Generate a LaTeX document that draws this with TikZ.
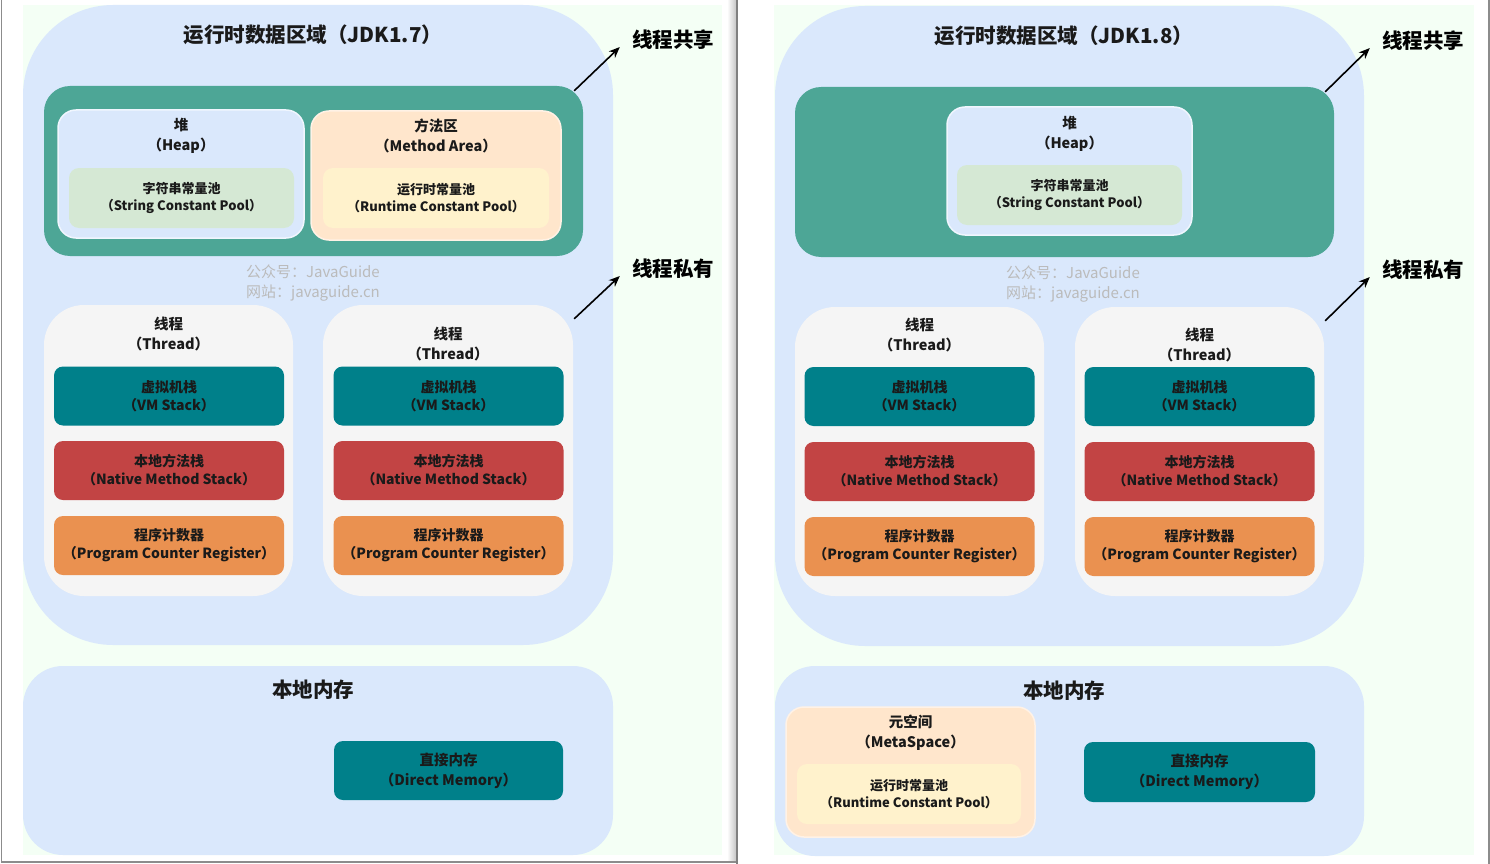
\documentclass[tikz,border=0pt]{standalone}
\usepackage{fontspec}
\setmainfont{Noto Sans CJK SC}
\usetikzlibrary{arrows.meta}

\definecolor{bggreen}{HTML}{F4FFF5}
\definecolor{areablue}{HTML}{DAE8FC}
\definecolor{sharedteal}{HTML}{4DA696}
\definecolor{poolgreen}{HTML}{D5E8D4}
\definecolor{methodorange}{HTML}{FFE6CC}
\definecolor{rcpyellow}{HTML}{FFF2CC}
\definecolor{threadgray}{HTML}{F5F5F5}
\definecolor{vmteal}{HTML}{00808A}
\definecolor{nativered}{HTML}{C24444}
\definecolor{pcorange}{HTML}{EA9150}
\definecolor{markgray}{HTML}{BBBBBB}
\definecolor{textdark}{HTML}{1A1A1A}

\newcommand{\hdfont}{\bfseries\fontsize{20.5}{24}\selectfont}
\newcommand{\ttlfont}{\bfseries\fontsize{14.5}{20}\selectfont}
\newcommand{\stkfont}{\bfseries\fontsize{14}{18}\selectfont}
\newcommand{\plfont}{\bfseries\fontsize{13}{17}\selectfont}
\newcommand{\wmfont}{\fontsize{15}{20}\selectfont}

\tikzset{
  runarea/.style={fill=areablue, inner sep=0pt, rounded corners=90pt},
  localarea/.style={fill=areablue, inner sep=0pt, rounded corners=40pt},
  shared/.style={fill=sharedteal, inner sep=0pt, rounded corners=26pt},
  heapbox/.style={fill=areablue, draw=white!60!areablue, line width=1.5pt, inner sep=0pt, rounded corners=18pt},
  methodbox/.style={fill=methodorange, draw=white!50!methodorange, line width=1.5pt, inner sep=0pt, rounded corners=18pt},
  poolbox/.style={fill=poolgreen, inner sep=0pt, rounded corners=10pt, align=center, font=\plfont, text=textdark},
  rcpbox/.style={poolbox, fill=rcpyellow},
  threadbox/.style={fill=threadgray, inner sep=0pt, rounded corners=40pt},
  stackbox/.style={inner sep=0pt, rounded corners=9pt, minimum width=230pt, minimum height=59pt, align=center, font=\stkfont, text=textdark},
  boxtitle/.style={align=center, inner sep=0pt, font=\ttlfont, text=textdark},
  heading/.style={inner sep=0pt, font=\hdfont, text=textdark},
  sidelabel/.style={inner sep=0pt, font=\hdfont, text=black},
  watermark/.style={align=center, inner sep=0pt, font=\wmfont, text=markgray},
  arr/.style={line width=1.6pt, -{Stealth[length=11pt, width=9pt]}},
}

\begin{document}
\begin{tikzpicture}[x=1pt, y=-1pt]
\useasboundingbox (0,0) rectangle (1490,864);

\fill[white] (0,0) rectangle (1490,864);
\fill[bggreen] (23,5) rectangle (722,855);
\fill[bggreen] (774,5) rectangle (1474,855);
\shade[left color=white, right color=black!22] (727,0) rectangle (736,862);
\draw[black!45, line width=1.5pt] (1.5,0) -- (1.5,862) -- (737,862);
\draw[black!50, line width=1.5pt] (737,0) -- (737,864);
\draw[black!45, line width=1.5pt] (1489,0) -- (1489,864);

\node[runarea, minimum width=590pt, minimum height=640pt] (1) at (318,325) {};
\node[heading] (2) at (313,35) {运行时数据区域（JDK1.7）};
\node[shared, minimum width=539pt, minimum height=170pt] (3) at (313.5,171) {};
\node[heapbox, minimum width=246pt, minimum height=128pt] (4) at (181,174) {};
\node[boxtitle] (5) at (181,136) {堆\\（Heap）};
\node[poolbox, minimum width=225pt, minimum height=60pt] (6) at (181.5,198) {字符串常量池\\（String Constant Pool）};
\node[methodbox, minimum width=250pt, minimum height=129pt] (7) at (436,175.5) {};
\node[boxtitle] (8) at (436,136) {方法区\\（Method Area）};
\node[rcpbox, minimum width=226pt, minimum height=60pt] (9) at (436,198) {运行时常量池\\（Runtime Constant Pool）};
\node[watermark] (10) at (313,283) {公众号：JavaGuide\\网站：javaguide.cn};

\node[threadbox, minimum width=249pt, minimum height=291pt] (11) at (168.5,450.5) {};
\node[boxtitle] (12) at (168.5,334) {线程\\（Thread）};
\node[stackbox, fill=vmteal] (13) at (169,396) {虚拟机栈\\（VM Stack）};
\node[stackbox, fill=nativered] (14) at (169,470.5) {本地方法栈\\（Native Method Stack）};
\node[stackbox, fill=pcorange] (15) at (169,545.5) {程序计数器\\（Program Counter Register）};

\node[threadbox, minimum width=250pt, minimum height=291pt] (16) at (448,450.5) {};
\node[boxtitle] (17) at (448,344) {线程\\（Thread）};
\node[stackbox, fill=vmteal] (18) at (448.5,396) {虚拟机栈\\（VM Stack）};
\node[stackbox, fill=nativered] (19) at (448.5,470.5) {本地方法栈\\（Native Method Stack）};
\node[stackbox, fill=pcorange] (20) at (448.5,545.5) {程序计数器\\（Program Counter Register）};

\node[sidelabel] (21) at (673,40) {线程共享};
\node[sidelabel] (22) at (673,269) {线程私有};
\draw[arr] ([xshift=-9pt, yshift=-5pt]3.north east) -- ([xshift=-12pt, yshift=3pt]21.south west);
\draw[arr] ([xshift=1pt, yshift=-14pt]16.north east) -- ([xshift=-12pt, yshift=3pt]22.south west);

\node[localarea, minimum width=590pt, minimum height=189pt] (23) at (318,760.5) {};
\node[heading] (24) at (313,690) {本地内存};
\node[stackbox, fill=vmteal, minimum width=229pt, font=\ttlfont] (25) at (448.5,770.5) {直接内存\\（Direct Memory）};

\node[runarea, minimum width=589pt, minimum height=640pt] (31) at (1069.5,326) {};
\node[heading] (32) at (1064,36) {运行时数据区域（JDK1.8）};
\node[shared, minimum width=539pt, minimum height=170pt] (33) at (1064.5,172) {};
\node[heapbox, minimum width=245pt, minimum height=128pt] (34) at (1069.5,171) {};
\node[boxtitle] (35) at (1069.5,134) {堆\\（Heap）};
\node[poolbox, minimum width=225pt, minimum height=60pt] (36) at (1069.5,195) {字符串常量池\\（String Constant Pool）};
\node[watermark] (37) at (1073,284) {公众号：JavaGuide\\网站：javaguide.cn};

\node[threadbox, minimum width=249pt, minimum height=289pt] (41) at (919.5,451.5) {};
\node[boxtitle] (42) at (919.5,335) {线程\\（Thread）};
\node[stackbox, fill=vmteal] (43) at (919.5,396.5) {虚拟机栈\\（VM Stack）};
\node[stackbox, fill=nativered] (44) at (919.5,471.5) {本地方法栈\\（Native Method Stack）};
\node[stackbox, fill=pcorange] (45) at (919.5,546.5) {程序计数器\\（Program Counter Register）};

\node[threadbox, minimum width=249pt, minimum height=289pt] (46) at (1199.5,451.5) {};
\node[boxtitle] (47) at (1199.5,345) {线程\\（Thread）};
\node[stackbox, fill=vmteal] (48) at (1199.5,396.5) {虚拟机栈\\（VM Stack）};
\node[stackbox, fill=nativered] (49) at (1199.5,471.5) {本地方法栈\\（Native Method Stack）};
\node[stackbox, fill=pcorange] (50) at (1199.5,546.5) {程序计数器\\（Program Counter Register）};

\node[sidelabel] (51) at (1423,41) {线程共享};
\node[sidelabel] (52) at (1423,270) {线程私有};
\draw[arr] ([xshift=-9pt, yshift=-5pt]33.north east) -- ([xshift=-12pt, yshift=3pt]51.south west);
\draw[arr] ([xshift=1pt, yshift=-14pt]46.north east) -- ([xshift=-12pt, yshift=3pt]52.south west);

\node[localarea, minimum width=589pt, minimum height=190pt] (53) at (1069.5,761) {};
\node[heading] (54) at (1064,691) {本地内存};
\node[methodbox, minimum width=249pt, minimum height=130pt] (55) at (910.5,772) {};
\node[boxtitle] (56) at (910.5,733) {元空间\\（MetaSpace）};
\node[rcpbox, minimum width=224pt, minimum height=60pt] (57) at (909,794) {运行时常量池\\（Runtime Constant Pool）};
\node[stackbox, fill=vmteal, minimum width=231pt, minimum height=60pt, font=\ttlfont] (58) at (1199.5,772) {直接内存\\（Direct Memory）};

\end{tikzpicture}
\end{document}
